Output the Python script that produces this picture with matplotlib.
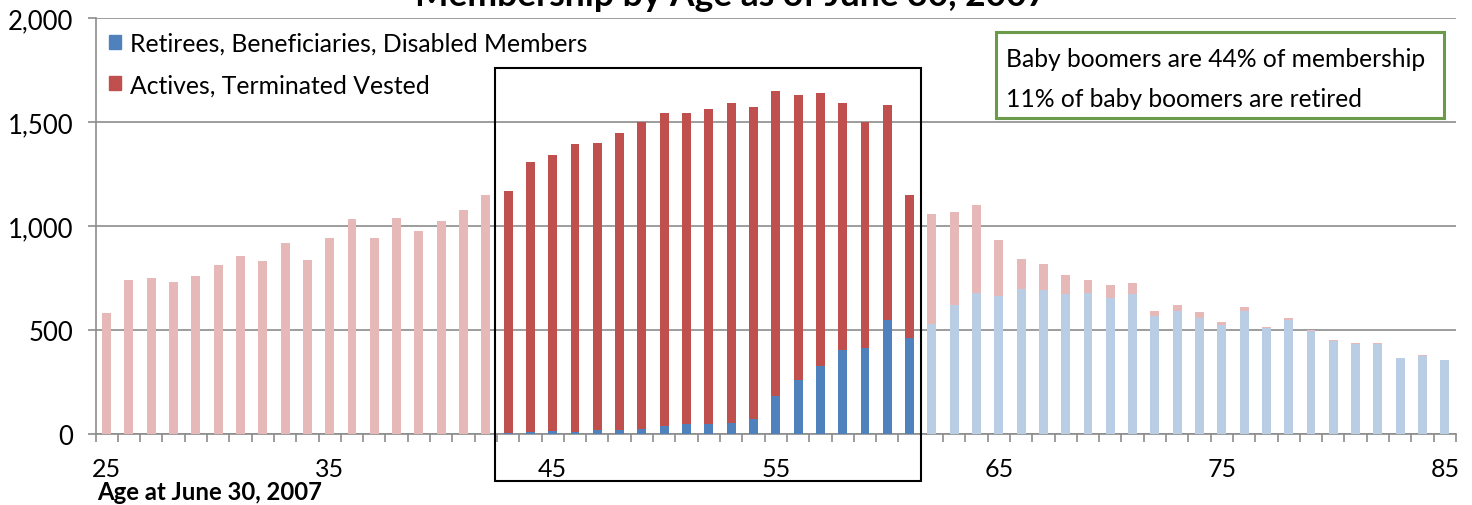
import matplotlib
matplotlib.use("Agg")
import matplotlib.pyplot as plt
from matplotlib.patches import Rectangle, Patch
from matplotlib.ticker import FuncFormatter, MultipleLocator
import numpy as np

# Membership counts by age (June 30, 2007)
ages = list(range(25, 86))
retirees = [0] * 18 + [
    8, 11, 17, 11, 19, 19, 24, 40, 48, 50, 56, 74, 184, 260, 330, 404, 413, 548, 462,
    532, 619, 677, 663, 698, 694, 674, 678, 655, 673, 567, 594, 557, 524, 591, 510,
    548, 495, 447, 436, 434, 365, 376, 357,
]
actives = [
    585, 740, 750, 730, 760, 812, 855, 832, 918, 836, 942, 1034, 942, 1038, 976, 1024, 1077, 1149,
    1159, 1297, 1323, 1385, 1380, 1427, 1476, 1502, 1495, 1514, 1537, 1500, 1464, 1371, 1308, 1189, 1085, 1032, 690,
    526, 451, 425, 271, 145, 125, 92, 64, 63, 54, 26, 27, 31, 16, 21, 6, 11, 6, 6, 3, 3, 2, 5, 0,
]
boomer_ages = (43, 61)
series_labels = ["Retirees, Beneficiaries, Disabled Members", "Actives, Terminated Vested"]
y_ticks = [0, 500, 1000, 1500, 2000]
x_tick_ages = [25, 35, 45, 55, 65, 75, 85]
title = "Membership by Age as of June 30, 2007"
x_label = "Age at June 30, 2007"
note_lines = ["Baby boomers are 44% of membership", "11% of baby boomers are retired"]

BLUE, RED = "#4F81BD", "#C0504D"
BLUE_LT, RED_LT = "#B9CDE5", "#E6B9B8"
GRID = "#8C8C8C"
FONT = "Lato"

plt.rcParams["font.family"] = [FONT, "DejaVu Sans"]

fig = plt.figure(figsize=(14.72, 5.06), dpi=100)
W, H = 1472, 506
ax = fig.add_axes([95.5 / W, 1 - 435.3 / H, (1456 - 95.5) / W, (435.3 - 19) / H])

ages_a = np.array(ages)
ret = np.array(retirees)
act = np.array(actives)
in_boom = (ages_a >= boomer_ages[0]) & (ages_a <= boomer_ages[1])

blue_cols = [BLUE if b else BLUE_LT for b in in_boom]
red_cols = [RED if b else RED_LT for b in in_boom]
ax.bar(ages_a, ret, width=0.4, color=blue_cols, zorder=3, linewidth=0)
ax.bar(ages_a, act, bottom=ret, width=0.4, color=red_cols, zorder=3, linewidth=0)

ax.set_xlim(24.5, 85.5)
ax.set_ylim(0, 2000)
ax.set_yticks(y_ticks)
ax.yaxis.set_major_formatter(FuncFormatter(lambda v, p: f"{int(v):,}"))
ax.grid(axis="y", color=GRID, linewidth=1.2, zorder=1)
ax.set_axisbelow(True)

ax.set_xticks(x_tick_ages)
ax.set_xticklabels([str(a) for a in x_tick_ages])
ax.xaxis.set_minor_locator(MultipleLocator(1, offset=0.5))
ax.tick_params(axis="x", which="major", length=0, pad=16, labelsize=18)
ax.tick_params(axis="x", which="minor", length=6, width=1.2, color=GRID)
ax.tick_params(axis="y", length=6, width=1.2, color=GRID, pad=10, labelsize=18.5)

for side in ("top", "right"):
    ax.spines[side].set_visible(False)
for side in ("left", "bottom"):
    ax.spines[side].set_color(GRID)
    ax.spines[side].set_linewidth(1.2)

# Legend
handles = [Patch(color=BLUE), Patch(color=RED)]
ax.legend(handles, series_labels, loc="upper left", bbox_to_anchor=(0.0, 1.0),
          frameon=False, fontsize=17.8, handlelength=0.5, handleheight=0.5,
          handletextpad=0.35, labelspacing=0.75, borderaxespad=0.15)

# Baby boomer bracket
ax.add_patch(Rectangle((42.4, -224), 61.5 - 42.4, 1761 + 224, fill=False,
                       edgecolor="black", linewidth=1.5, clip_on=False, zorder=5))

# Note box
note_box = Rectangle((996 / W, 1 - 119 / H), (1444 - 996) / W, 86 / H,
                     transform=fig.transFigure, fill=False,
                     edgecolor="#6A9A4A", linewidth=2.2)
fig.add_artist(note_box)
note_clip = Rectangle((996 / W, 1 - 111 / H), (1444 - 996) / W, 78 / H,
                      transform=fig.transFigure, visible=False)
fig.add_artist(note_clip)
for text, base in zip(note_lines, (67, 107)):
    t = fig.text(1006.5 / W, 1 - base / H, text, fontsize=17.7, va="baseline", ha="left")
    t.set_clip_path(note_clip)

fig.text(731 / W, 1 - 6 / H, title, fontsize=25.5, fontweight="bold",
         ha="center", va="baseline")
fig.text(97 / W, 1 - 493 / H, x_label, fontsize=17.2, fontweight="bold",
         ha="left", va="center")

fig.savefig("out.png", dpi=100)
